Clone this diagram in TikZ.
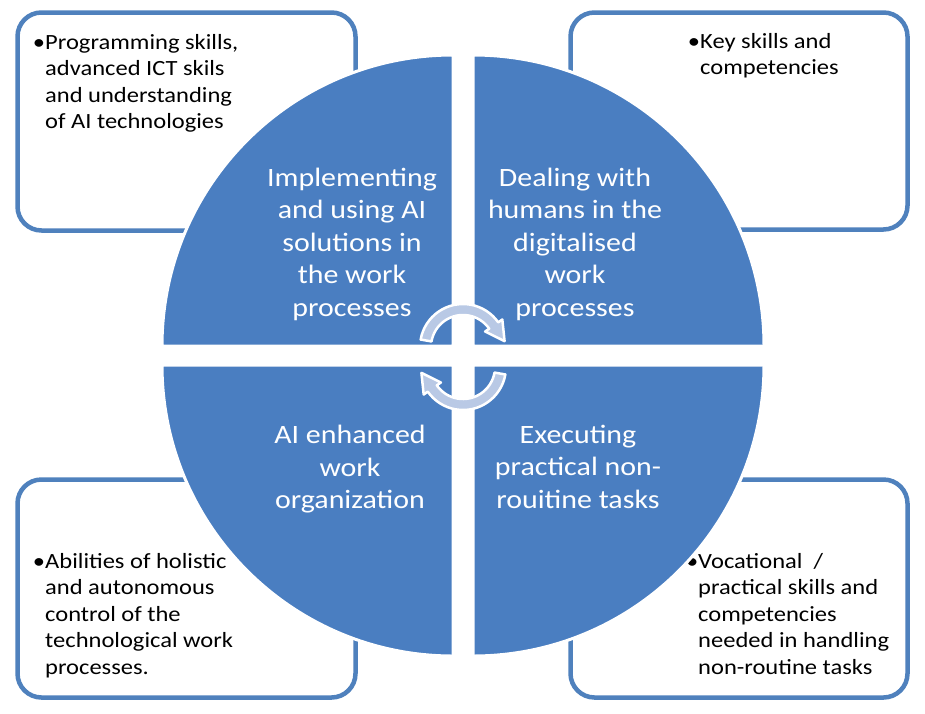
\documentclass[tikz,border=0pt]{standalone}
\usepackage{fontspec}
\setmainfont{Carlito}
\newfontfamily\widefont[FakeStretch=1.13]{Carlito}
\usetikzlibrary{calc,positioning}

\definecolor{quadblue}{RGB}{74,126,193}
\definecolor{boxblue}{RGB}{79,129,189}
\definecolor{arrowblue}{RGB}{185,201,229}

\begin{document}
\begin{tikzpicture}[x=1pt, y=-1pt,
skillbox/.style={rectangle, draw=boxblue, fill=white, line width=4.5pt, rounded corners=24pt},
skilltext/.style={anchor=base west, inner sep=0pt, align=left, font=\widefont\fontsize{21.7}{26.5}\selectfont},
quadrant/.style={fill=quadblue, draw=white, line width=3pt},
quadtext/.style={inner sep=0pt, align=center, text=white, font=\widefont\fontsize{26.5}{32.5}\selectfont},
cyclearrow/.style={fill=arrowblue, draw=white, line width=2.5pt, line join=round}]

%% local variables
\def \R {291}
\def \Ro {43}
\def \Ri {32}

\useasboundingbox (0,0) rectangle (925,713);

%% place the four skill boxes
\foreach \n/\x/\y/\w/\h in {TL/186.5/121.5/338/218, TR/739/121/337/217, BL/186.5/588.5/338/218, BR/739/588.5/337/218}
      \node[skillbox, minimum width=\w pt, minimum height=\h pt] (box-\n) at (\x,\y) {};

%% texts of the skill boxes (placed at the baseline of the last line)
\node[skilltext] (skill-TL) at (45,128.5) {\llap{\textbullet}Programming skills,\\advanced ICT skils\\and understanding\\of AI technologies};
\node[skilltext] (skill-TR) at (700,74.5) {\llap{\textbullet}Key skills and\\competencies};
\node[skilltext] (skill-BL) at (45,674) {\llap{\textbullet}Abilities of holistic\\and autonomous\\control of the\\technological work\\processes.};
\node[skilltext] (skill-BR) at (698,674) {\llap{\textbullet}Vocational~~/\\practical skills and\\competencies\\needed in handling\\non-routine tasks};

%% place the four quarters of the circle
\foreach \cx/\cy/\a in {453/346/180, 473/346/270, 473/365/0, 453/365/90}
      \filldraw[quadrant] (\cx,\cy) -- ++(\a:\R) arc[start angle=\a, end angle=\a+90, radius=\R] -- cycle;

%% texts of the quarters
\node[quadtext] (quad-TL) at (352,244) {Implementing\\and using AI\\solutions in\\the work\\processes};
\node[quadtext] (quad-TR) at (575,244) {Dealing with\\humans in the\\digitalised\\work\\processes};
\node[quadtext] (quad-BL) at (350,469.5) {AI enhanced\\work\\organization};
\node[quadtext] (quad-BR) at (578,466.5) {Executing\\practical non-\\rouitine tasks};

%% cycle arrows in the middle
\coordinate (ctop) at (463,347);
\coordinate (cbot) at (463,367);

\filldraw[cyclearrow] ($(ctop)+(-170:\Ro)$) arc[start angle=-170, end angle=-35, radius=\Ro]
      -- ($(ctop)+(-35:48)$) -- ($(ctop)+(-8:42)$) -- ($(ctop)+(-35:27)$) -- ($(ctop)+(-35:\Ri)$)
      arc[start angle=-35, end angle=-170, radius=\Ri] -- cycle;
\filldraw[cyclearrow] ($(cbot)+(10:\Ro)$) arc[start angle=10, end angle=145, radius=\Ro]
      -- ($(cbot)+(145:48)$) -- ($(cbot)+(172:42)$) -- ($(cbot)+(145:27)$) -- ($(cbot)+(145:\Ri)$)
      arc[start angle=145, end angle=10, radius=\Ri] -- cycle;

\end{tikzpicture}
\end{document}
